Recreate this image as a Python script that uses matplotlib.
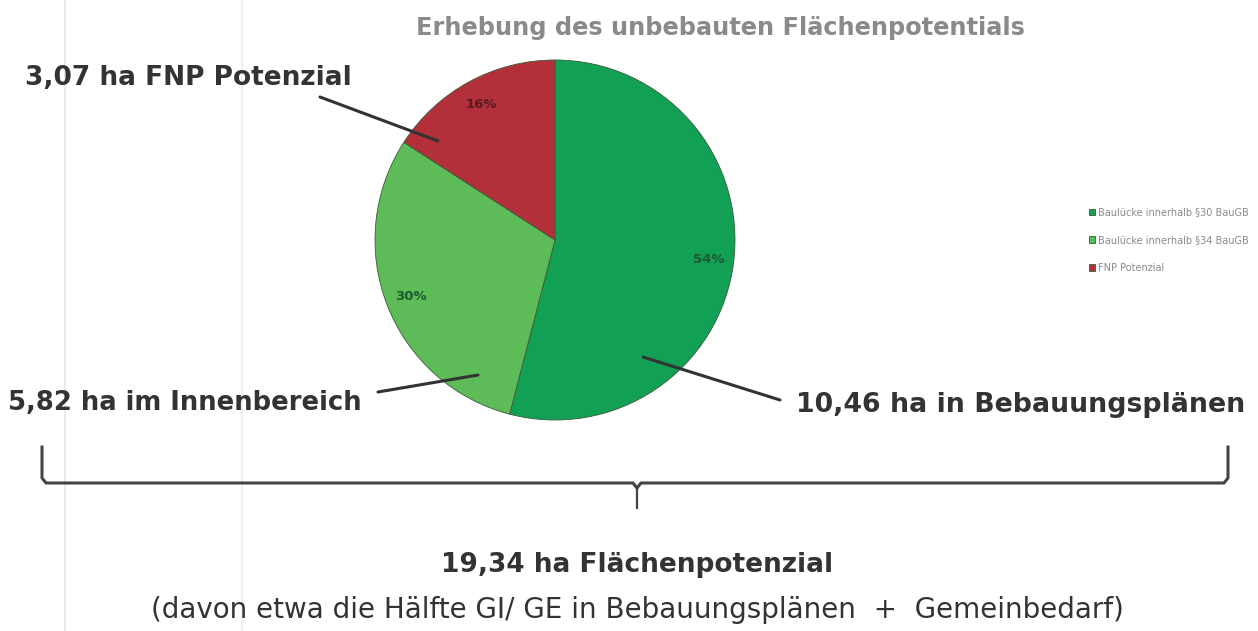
import matplotlib
matplotlib.use("Agg")
import matplotlib.pyplot as plt

plt.rcParams['font.family'] = ['DejaVu Sans']

# ---- data ----
categories = ["Baulücke innerhalb §30 BauGB", "Baulücke innerhalb §34 BauGB", "FNP Potenzial"]
hectares = [10.46, 5.82, 3.07]
colors = ["#12A055", "#5DBB58", "#B3303A"]
callouts = ["10,46 ha in Bebauungsplänen", "5,82 ha im Innenbereich", "3,07 ha FNP Potenzial"]
title = "Erhebung des unbebauten Flächenpotentials"
total_label = "19,34 ha Flächenpotenzial"
note_label = "(davon etwa die Hälfte GI/ GE in Bebauungsplänen  +  Gemeinbedarf)"

W, H = 1258, 631
fig = plt.figure(figsize=(W / 100, H / 100), dpi=100)
fig.patch.set_facecolor("white")

# background axes for faint scan lines
bg = fig.add_axes([0, 0, 1, 1])
bg.set_xlim(0, W)
bg.set_ylim(H, 0)
bg.axis("off")
bg.plot([65, 65], [0, H], color="#e6e6e6", lw=1.2)
bg.plot([242, 242], [0, H], color="#ececec", lw=1.2)

# pie axes
cx, cy, r = 555, 240, 180
ax = fig.add_axes([(cx - r) / W, (H - cy - r) / H, 2 * r / W, 2 * r / H])
wedges, texts, autotexts = ax.pie(
    hectares, colors=colors, startangle=90, counterclock=False,
    autopct=lambda p: f"{p:.0f}%", pctdistance=0.86,
    wedgeprops=dict(edgecolor="#3a5a3a", linewidth=0.6),
    textprops=dict(fontsize=9.5, fontweight="bold"))
for t, c in zip(autotexts, ["#1d5a33", "#1d5a33", "#5a1a1e"]):
    t.set_color(c)
ax.set_xlim(-1, 1)
ax.set_ylim(-1, 1)
ax.set_aspect("equal")
ax.axis("off")

# overlay axes (on top) for annotations
ov = fig.add_axes([0, 0, 1, 1])
ov.set_xlim(0, W)
ov.set_ylim(H, 0)
ov.axis("off")
ov.patch.set_alpha(0)

# title
ov.text(720, 28, title, ha="center", va="center", fontsize=17.3,
        fontweight="bold", color="#8a8a8a")

# legend
fig.legend(wedges, categories, loc="center left",
           bbox_to_anchor=(1080 / W, 1 - 240 / H), frameon=False,
           fontsize=7.0, labelcolor="#8a8a8a", handlelength=0.6,
           handleheight=0.6, handletextpad=0.3, labelspacing=1.85)

# callouts
kw = dict(fontweight="bold", color="#333333", va="center")
ov.text(25, 78, callouts[2], ha="left", fontsize=19, **kw)
ov.text(8, 403, callouts[1], ha="left", fontsize=18.6, **kw)
ov.text(1245, 405, callouts[0], ha="right", fontsize=19.3, **kw)

lk = dict(color="#333333", lw=2.2, solid_capstyle="round")
ov.plot([320, 438], [97, 141], **lk)
ov.plot([378, 478], [392, 375], **lk)
ov.plot([643, 780], [357, 400], **lk)

# brace
bk = dict(color="#444444", lw=2.2)
ov.plot([42, 42, 46, 633, 637, 641, 1224, 1228, 1228],
        [447, 478, 483, 483, 488, 483, 483, 478, 447], **bk)
ov.plot([637, 637], [488, 508], color="#444444", lw=1.6)

ov.text(637, 565, total_label, ha="center", va="center", fontsize=19,
        fontweight="bold", color="#333333")
ov.text(637, 610, note_label, ha="center", va="center", fontsize=20,
        color="#333333")

fig.savefig("out.png", dpi=100, facecolor="white")
